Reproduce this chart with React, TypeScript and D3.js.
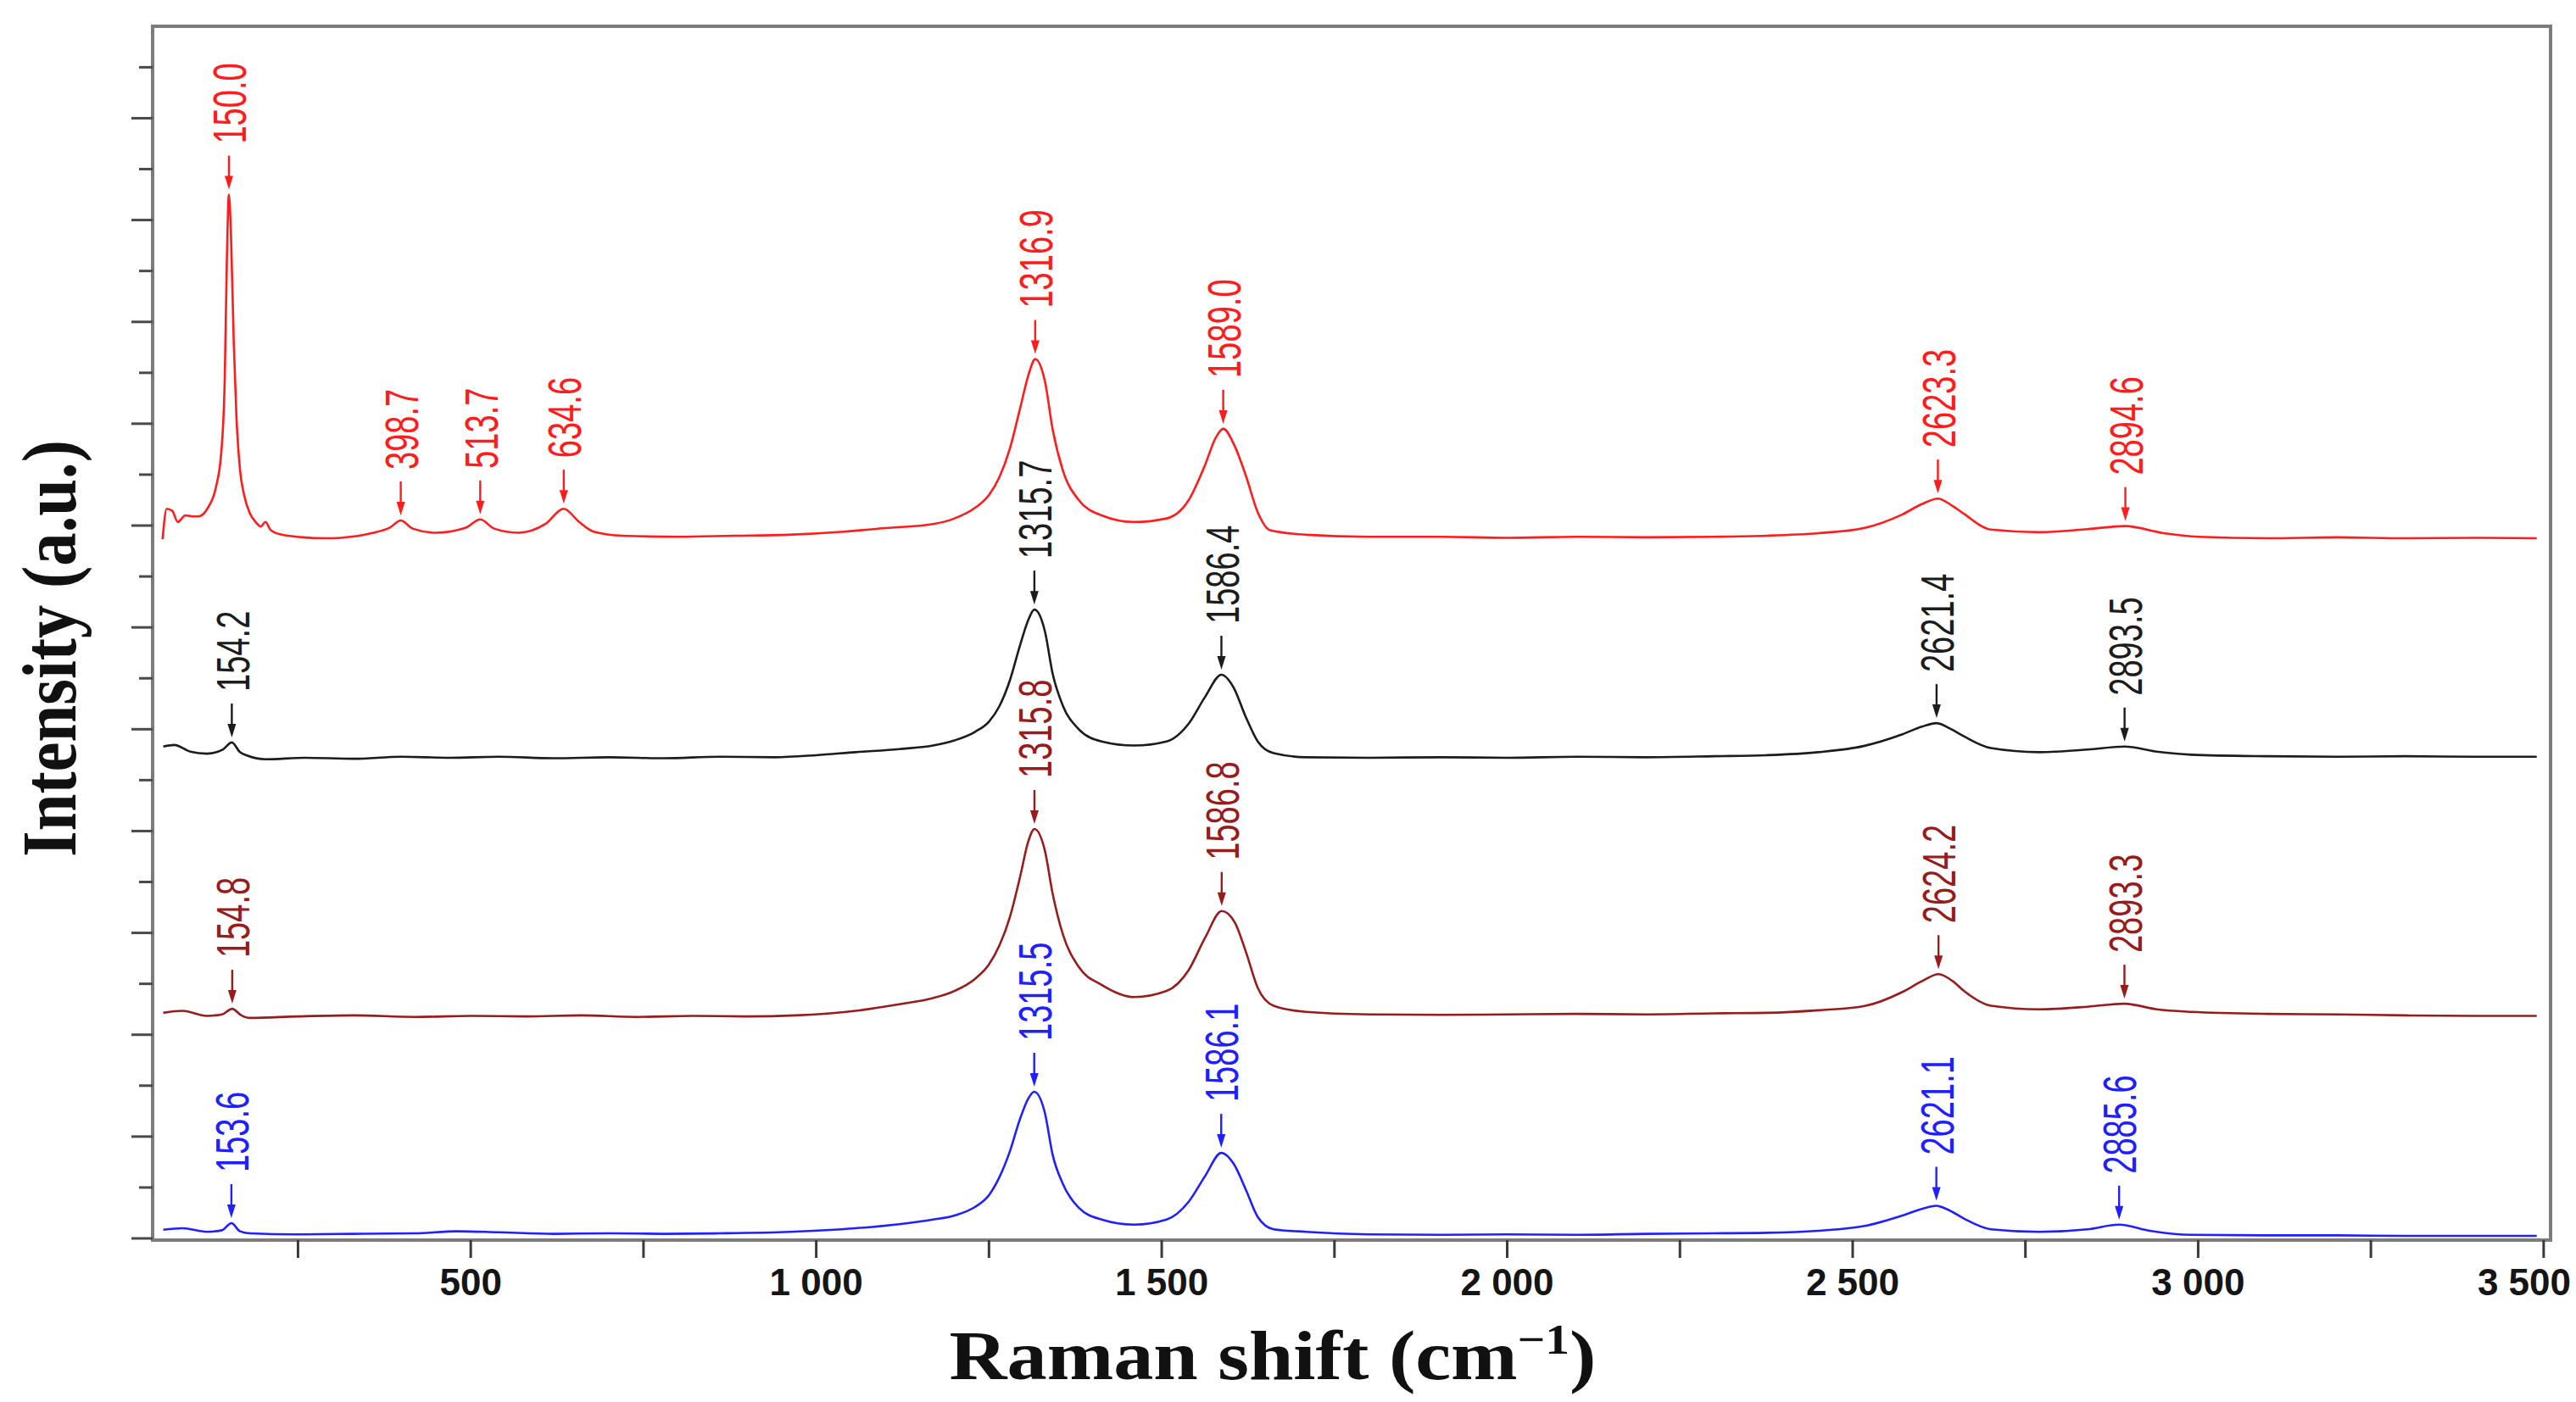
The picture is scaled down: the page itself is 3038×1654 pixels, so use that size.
import React from "react";
import * as d3 from "d3";

// Raman spectra, four samples stacked with offsets (intensity in y-tick units)
const W = 3038;
const H = 1654;
const frame = { left: 180, top: 31, right: 3008, bottom: 1463 };

const xMinorTicks = [250, 750, 1250, 1750, 2250, 2750, 3250];
const xMajorTicks = [500, 1000, 1500, 2000, 2500, 3000, 3500];
const xTickLabels = ["500", "1 000", "1 500", "2 000", "2 500", "3 000", "3 500"];
const yTickValues = d3.range(0, 24);

const redSpectrum: [number, number][] = [
  [54, 13.73], [60, 14.33], [68, 14.29], [76, 14.07], [87, 14.2], [98, 14.18], [106, 14.18],
  [120, 14.36], [131, 14.74], [139, 15.45], [144, 16.9], [147, 19.2], [150, 20.5], [153, 19.7],
  [157, 17.6], [161, 16.1], [166, 15.1], [172, 14.6], [180, 14.25], [190, 14.05], [196, 13.98],
  [203, 14.07], [210, 13.92], [224, 13.83], [257, 13.77], [290, 13.75], [312, 13.76], [356, 13.85],
  [383, 13.96], [398.7, 14.1], [416, 13.94], [449, 13.86], [493, 13.96], [513.7, 14.12], [534, 13.94],
  [569, 13.86], [608, 14.03], [634.6, 14.33], [657, 14.07], [678, 13.88], [720, 13.8], [800, 13.78],
  [880, 13.8], [960, 13.82], [1040, 13.88], [1100, 13.95], [1169, 14.03], [1200, 14.14], [1230, 14.35],
  [1250, 14.6], [1265, 14.95], [1280, 15.5], [1295, 16.3], [1308, 17.0], [1316.9, 17.27], [1331, 16.83],
  [1342, 15.9], [1357, 15.08], [1380, 14.5], [1413, 14.2], [1460, 14.07], [1507, 14.14], [1539, 14.5],
  [1563, 15.2], [1578, 15.72], [1589, 15.9], [1606, 15.55], [1622, 14.97], [1639, 14.26], [1657, 13.91],
  [1709, 13.82], [1800, 13.78], [1905, 13.78], [2000, 13.76], [2100, 13.78], [2200, 13.77],
  [2300, 13.78], [2375, 13.8], [2450, 13.85], [2516, 13.95], [2572, 14.22], [2600, 14.42],
  [2623.3, 14.53], [2645, 14.38], [2661, 14.23], [2700, 13.92], [2770, 13.87], [2840, 13.93],
  [2894.6, 13.99], [2950, 13.85], [3000, 13.78], [3100, 13.75], [3200, 13.77], [3300, 13.75],
  [3400, 13.76], [3490, 13.75],
];

const blackSpectrum: [number, number][] = [
  [55, 9.66], [71, 9.69], [94, 9.56], [118, 9.52], [141, 9.6], [154.2, 9.74], [166, 9.55], [177, 9.48],
  [203, 9.41], [260, 9.44], [330, 9.42], [400, 9.46], [470, 9.44], [540, 9.46], [620, 9.43], [700, 9.45],
  [780, 9.43], [860, 9.46], [940, 9.45], [1000, 9.49], [1057, 9.55], [1120, 9.61], [1169, 9.68],
  [1200, 9.78], [1230, 9.95], [1250, 10.15], [1265, 10.45], [1280, 10.95], [1295, 11.65], [1307, 12.15],
  [1315.7, 12.35], [1331, 11.92], [1342, 11.1], [1357, 10.46], [1380, 10.0], [1413, 9.76], [1460, 9.68],
  [1507, 9.76], [1539, 10.11], [1563, 10.64], [1586.4, 11.07], [1604, 10.82], [1622, 10.23],
  [1639, 9.76], [1662, 9.53], [1709, 9.45], [1800, 9.44], [1905, 9.45], [2000, 9.44], [2100, 9.46],
  [2200, 9.45], [2300, 9.47], [2375, 9.49], [2450, 9.55], [2516, 9.67], [2572, 9.9], [2600, 10.05],
  [2621.4, 10.12], [2640, 10.02], [2661, 9.86], [2700, 9.63], [2770, 9.55], [2840, 9.6], [2893.5, 9.66],
  [2940, 9.56], [2990, 9.5], [3100, 9.47], [3200, 9.46], [3300, 9.47], [3400, 9.46], [3490, 9.46],
];

const darkRedSpectrum: [number, number][] = [
  [55, 4.43], [83, 4.47], [118, 4.37], [140, 4.4], [154.8, 4.51], [168, 4.38], [180, 4.33], [250, 4.36],
  [330, 4.38], [420, 4.35], [500, 4.37], [580, 4.36], [660, 4.38], [740, 4.35], [820, 4.37], [900, 4.36],
  [970, 4.38], [1057, 4.47], [1120, 4.6], [1169, 4.72], [1200, 4.86], [1230, 5.1], [1250, 5.38],
  [1265, 5.75], [1280, 6.3], [1295, 7.1], [1307, 7.8], [1315.8, 8.04], [1331, 7.61], [1342, 6.78],
  [1357, 5.97], [1380, 5.33], [1413, 4.98], [1460, 4.74], [1507, 4.86], [1539, 5.27], [1563, 5.91],
  [1586.8, 6.43], [1606, 6.2], [1622, 5.62], [1639, 4.92], [1662, 4.57], [1709, 4.45], [1800, 4.4],
  [1905, 4.39], [2000, 4.4], [2100, 4.41], [2200, 4.4], [2300, 4.42], [2375, 4.43], [2450, 4.48],
  [2516, 4.56], [2572, 4.84], [2600, 5.05], [2624.2, 5.19], [2645, 5.05], [2661, 4.86], [2700, 4.57],
  [2770, 4.5], [2840, 4.55], [2893.3, 4.61], [2940, 4.5], [2990, 4.45], [3100, 4.41], [3200, 4.4],
  [3300, 4.38], [3400, 4.37], [3490, 4.37],
];

const blueSpectrum: [number, number][] = [
  [55, 0.17], [83, 0.2], [118, 0.13], [140, 0.16], [153.6, 0.3], [166, 0.14], [180, 0.1], [250, 0.08],
  [330, 0.09], [420, 0.1], [480, 0.14], [540, 0.12], [620, 0.09], [700, 0.1], [780, 0.09], [860, 0.1],
  [962, 0.13], [1057, 0.2], [1120, 0.28], [1169, 0.37], [1200, 0.45], [1230, 0.62], [1250, 0.85],
  [1265, 1.2], [1280, 1.7], [1295, 2.35], [1307, 2.75], [1315.5, 2.88], [1331, 2.46], [1342, 1.65],
  [1357, 1.07], [1380, 0.6], [1413, 0.37], [1460, 0.27], [1507, 0.37], [1539, 0.72], [1563, 1.23],
  [1586.1, 1.68], [1604, 1.47], [1622, 0.95], [1639, 0.42], [1662, 0.18], [1709, 0.13], [1800, 0.08],
  [1905, 0.07], [2000, 0.08], [2100, 0.07], [2200, 0.09], [2300, 0.1], [2375, 0.11], [2450, 0.15],
  [2516, 0.24], [2572, 0.45], [2600, 0.58], [2621.1, 0.64], [2640, 0.55], [2661, 0.39], [2700, 0.18],
  [2770, 0.13], [2840, 0.18], [2885.6, 0.27], [2930, 0.15], [2990, 0.07], [3100, 0.06], [3200, 0.06],
  [3300, 0.05], [3400, 0.05], [3490, 0.05],
];

const redPeaks = [150.0, 398.7, 513.7, 634.6, 1316.9, 1589.0, 2623.3, 2894.6];
const blackPeaks = [154.2, 1315.7, 1586.4, 2621.4, 2893.5];
const darkRedPeaks = [154.8, 1315.8, 1586.8, 2624.2, 2893.3];
const bluePeaks = [153.6, 1315.5, 1586.1, 2621.1, 2885.6];

const series = [
  { key: "red", color: "#ff1c1c", data: redSpectrum, peaks: redPeaks },
  { key: "black", color: "#1c1c1c", data: blackSpectrum, peaks: blackPeaks },
  { key: "darkred", color: "#981c1c", data: darkRedSpectrum, peaks: darkRedPeaks },
  { key: "blue", color: "#2020ff", data: blueSpectrum, peaks: bluePeaks },
];

const App = () => {
  const x = d3.scaleLinear().domain([39.6, 3510]).range([frame.left, frame.right]);
  const y = d3.scaleLinear().domain([0, 23]).range([1461, 1461 - 23 * 60.07]);

  const line = d3
    .line<[number, number]>()
    .x((d) => x(d[0]))
    .y((d) => y(d[1]))
    .curve(d3.curveMonotoneX);

  const fmt = d3.format(".1f");

  // peak height = highest sample near the labelled position
  const peakTop = (data: [number, number][], p: number) =>
    d3.max(data.filter((d) => Math.abs(d[0] - p) < 12), (d) => d[1]) as number;

  const lastTick = xMajorTicks.length - 1;

  return (
    <svg
      width={W}
      height={H}
      style={{ position: "absolute", left: 0, top: 0, display: "block", background: "#fff" }}
    >
      <rect x={0} y={0} width={W} height={H} fill="#fff" />

      {series.map((s) => (
        <path key={s.key} d={line(s.data) || ""} fill="none" stroke={s.color} strokeWidth={2.6} strokeLinejoin="round" />
      ))}

      {series.map((s) =>
        s.peaks.map((p) => {
          const px = x(p);
          const py = y(peakTop(s.data, p));
          return (
            <g key={s.key + p}>
              <line x1={px} x2={px} y1={py - 46} y2={py - 14} stroke={s.color} strokeWidth={2.4} />
              <path d={`M${px - 5},${py - 22} L${px + 5},${py - 22} L${px},${py - 6} Z`} fill={s.color} />
              <text
                transform={`translate(${px},${py - 60}) rotate(-90) scale(0.68,1)`}
                dy="0.36em"
                fontFamily="'Liberation Sans', Arial, sans-serif"
                fontSize={56}
                fill={s.color}
              >
                {fmt(p)}
              </text>
            </g>
          );
        })
      )}

      {/* frame */}
      <rect
        x={frame.left}
        y={frame.top}
        width={frame.right - frame.left}
        height={frame.bottom - frame.top}
        fill="none"
        stroke="#7c7c7c"
        strokeWidth={4}
      />

      {/* y ticks */}
      {yTickValues.map((v) => (
        <line
          key={"yt" + v}
          x1={frame.left - (v % 2 === 0 ? 25 : 16)}
          x2={frame.left}
          y1={y(v)}
          y2={y(v)}
          stroke="#4a4a4a"
          strokeWidth={3}
        />
      ))}

      {/* x ticks */}
      {[...xMinorTicks, ...xMajorTicks].map((v) => (
        <line key={"xt" + v} x1={x(v)} x2={x(v)} y1={frame.bottom} y2={frame.bottom + 21} stroke="#3a3a3a" strokeWidth={3} />
      ))}
      {xMajorTicks.map((v, i) => (
        <text
          key={"xl" + v}
          x={i === lastTick ? W - 6 : x(v)}
          y={1528}
          textAnchor={i === lastTick ? "end" : "middle"}
          fontFamily="'Liberation Sans', Arial, sans-serif"
          fontWeight="bold"
          fontSize={44}
          fill="#151515"
        >
          {xTickLabels[i]}
        </text>
      ))}

      {/* axis titles */}
      <text
        x={1501}
        y={1627}
        textAnchor="middle"
        fontFamily="'Liberation Serif', 'Times New Roman', serif"
        fontWeight="bold"
        fontSize={82}
        fill="#111"
        textLength={763}
        lengthAdjust="spacingAndGlyphs"
      >
        Raman shift (cm
        <tspan fontSize={50} dy={-30}>−1</tspan>
        <tspan dy={30}>)</tspan>
      </text>
      <text
        transform="translate(89,765) rotate(-90)"
        textAnchor="middle"
        fontFamily="'Liberation Serif', 'Times New Roman', serif"
        fontWeight="bold"
        fontSize={92}
        fill="#111"
        textLength={492}
        lengthAdjust="spacingAndGlyphs"
      >
        Intensity (a.u.)
      </text>
    </svg>
  );
};

export default App;
